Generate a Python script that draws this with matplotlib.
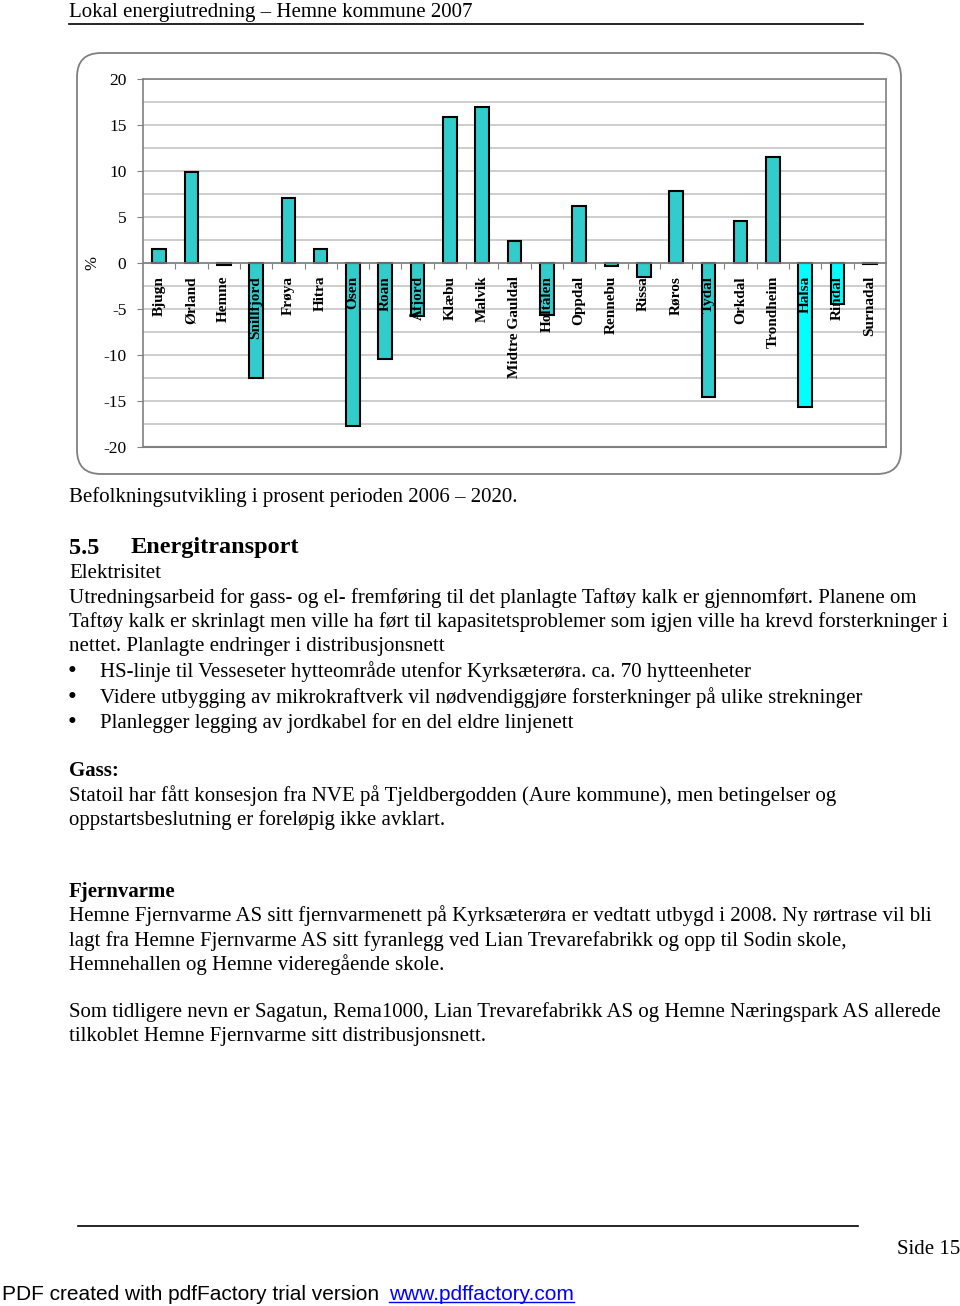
import numpy as np
import matplotlib

matplotlib.use('Agg')
import matplotlib.pyplot as plt
from matplotlib.patches import FancyBboxPatch

# befolkningsutvikling i prosent 2006 - 2020
kommuner = ['Bjugn', 'Ørland', 'Hemne', 'Snillfjord', 'Frøya', 'Hitra', 'Osen', 'Roan',
            'Åfjord', 'Klæbu', 'Malvik', 'Midtre Gauldal', 'Holtålen', 'Oppdal', 'Rennebu',
            'Rissa', 'Røros', 'Tydal', 'Orkdal', 'Trondheim', 'Halsa', 'Rindal', 'Surnadal']
endring = [1.5, 9.9, -0.2, -12.5, 7.1, 1.5, -17.7, -10.4,
           -5.8, 15.9, 17.0, 2.4, -5.7, 6.2, -0.3,
           -1.5, 7.8, -14.6, 4.6, 11.5, -15.6, -4.5, -0.1]
farger = ['#33CCCC'] * 20 + ['#00FFFF', '#00FFFF', '#33CCCC']
y_ticks = [20, 15, 10, 5, 0, -5, -10, -15, -20]

W, H = 960, 1306
SERIF = 'Liberation Serif'
SANS = 'Liberation Sans'

fig = plt.figure(figsize=(W / 100, H / 100), dpi=100)


def px(x, y):
    # pikselkoordinater (fra toppen) -> figurkoordinater
    return x / W, 1 - y / H


def tekst(x, y, s, size=15, weight='normal', **kw):
    fx, fy = px(x, y + 2)
    fig.text(fx, fy, s, fontsize=size, fontweight=weight, family=SERIF,
             va='center', ha='left', **kw)


# topptekst
tekst(69, 11, 'Lokal energiutredning – Hemne kommune 2007', size=15)
fig.add_artist(plt.Line2D([69 / W, 863 / W], [1 - 24 / H] * 2, color='black', lw=1.2))

# ramme rundt diagrammet
x0, y0 = px(77, 474)
x1, y1 = px(901, 53)
ramme = FancyBboxPatch((x0, y0), x1 - x0, y1 - y0, boxstyle='round,pad=0,rounding_size=0.025',
                       transform=fig.transFigure, facecolor='none', edgecolor='#808080',
                       lw=1.3, mutation_aspect=W / H, zorder=-1)
fig.add_artist(ramme)

# diagram
l, b = px(143, 447)
r, t = px(886, 79)
ax = fig.add_axes([l, b, r - l, t - b])
ax.patch.set_alpha(0)
x = np.arange(len(kommuner))
ax.bar(x, endring, width=0.42, color=farger, edgecolor='black', linewidth=1.5, zorder=3)
ax.set_xlim(-0.5, len(kommuner) - 0.5)
ax.set_ylim(-20, 20)
ax.set_yticks(y_ticks)
ax.set_yticklabels([str(v) for v in y_ticks], family=SERIF, fontsize=12.5)
ax.set_yticks(np.arange(-17.5, 20, 2.5), minor=True)
ax.grid(axis='y', which='both', color='#C0C0C0', lw=1.1, zorder=0)
ax.tick_params(axis='y', which='major', length=4, color='#808080', pad=8)
ax.tick_params(axis='y', which='minor', length=0)
for side in ['left', 'right', 'top']:
    ax.spines[side].set_color('#808080')
    ax.spines[side].set_linewidth(1.2)
ax.spines['bottom'].set_position(('data', 0))
ax.spines['bottom'].set_color('#808080')
ax.spines['bottom'].set_linewidth(1.2)
ax.spines['bottom'].set_zorder(4)
ax.axhline(-20, color='#808080', lw=1.5, clip_on=False)
ax.set_xticks(x[:-1] + 0.5)
ax.set_xticklabels([])
ax.tick_params(axis='x', length=4, color='#808080', direction='out')
for i, navn in enumerate(kommuner):
    ax.text(i, -1.4, navn, rotation=90, ha='center', va='top', family=SERIF,
            fontweight='bold', fontsize=11, zorder=5)
ax.set_ylabel('%', family=SERIF, fontsize=12)
ax.yaxis.set_label_coords(-0.057, 0.5)

# brødtekst
tekst(69, 495, 'Befolkningsutvikling i prosent perioden 2006 – 2020.')
tekst(69, 546, '5.5', size=17.5, weight='bold')
tekst(131, 546, 'Energitransport', size=17.5, weight='bold')
linjer = [
    (571, 'Elektrisitet'),
    (596, 'Utredningsarbeid for gass- og el- fremføring til det planlagte Taftøy kalk er gjennomført. Planene om'),
    (620, 'Taftøy kalk er skrinlagt men ville ha ført til kapasitetsproblemer som igjen ville ha krevd forsterkninger i'),
    (645, 'nettet. Planlagte endringer i distribusjonsnett'),
    (794, 'Statoil har fått konsesjon fra NVE på Tjeldbergodden (Aure kommune), men betingelser og'),
    (818, 'oppstartsbeslutning er foreløpig ikke avklart.'),
    (914, 'Hemne Fjernvarme AS sitt fjernvarmenett på Kyrksæterøra er vedtatt utbygd i 2008. Ny rørtrase vil bli'),
    (939, 'lagt fra Hemne Fjernvarme AS sitt fyranlegg ved Lian Trevarefabrikk og opp til Sodin skole,'),
    (963, 'Hemnehallen og Hemne videregående skole.'),
    (1010, 'Som tidligere nevn er Sagatun, Rema1000, Lian Trevarefabrikk AS og Hemne Næringspark AS allerede'),
    (1035, 'tilkoblet Hemne Fjernvarme sitt distribusjonsnett.'),
]
for y, s in linjer:
    tekst(69, y, s)

punkter = [
    (670, 'HS-linje til Vesseseter hytteområde utenfor Kyrksæterøra. ca. 70 hytteenheter'),
    (696, 'Videre utbygging av mikrokraftverk vil nødvendiggjøre forsterkninger på ulike strekninger'),
    (721, 'Planlegger legging av jordkabel for en del eldre linjenett'),
]
for y, s in punkter:
    tekst(68, y, '•', size=18)
    tekst(100, y, s)

tekst(69, 769, 'Gass:', weight='bold')
tekst(69, 890, 'Fjernvarme', weight='bold')

# bunntekst
fig.add_artist(plt.Line2D([78 / W, 858 / W], [1 - 1226 / H] * 2, color='black', lw=1.2))
fx, fy = px(960, 1249)
fig.text(fx, fy, 'Side 15', family=SERIF, fontsize=15, va='center', ha='right')
fx, fy = px(2, 1294)
fig.text(fx, fy, 'PDF created with pdfFactory trial version ', family=SANS, fontsize=15,
         va='center', ha='left')
fx, fy = px(389, 1294)
fig.text(fx, fy, 'www.pdffactory.com', family=SANS, fontsize=15, va='center', ha='left',
         color='#0000FF')
fig.add_artist(plt.Line2D([389 / W, 574 / W], [1 - 1302 / H] * 2, color='#0000FF', lw=1))

fig.savefig('out.png', dpi=100, facecolor='white')
